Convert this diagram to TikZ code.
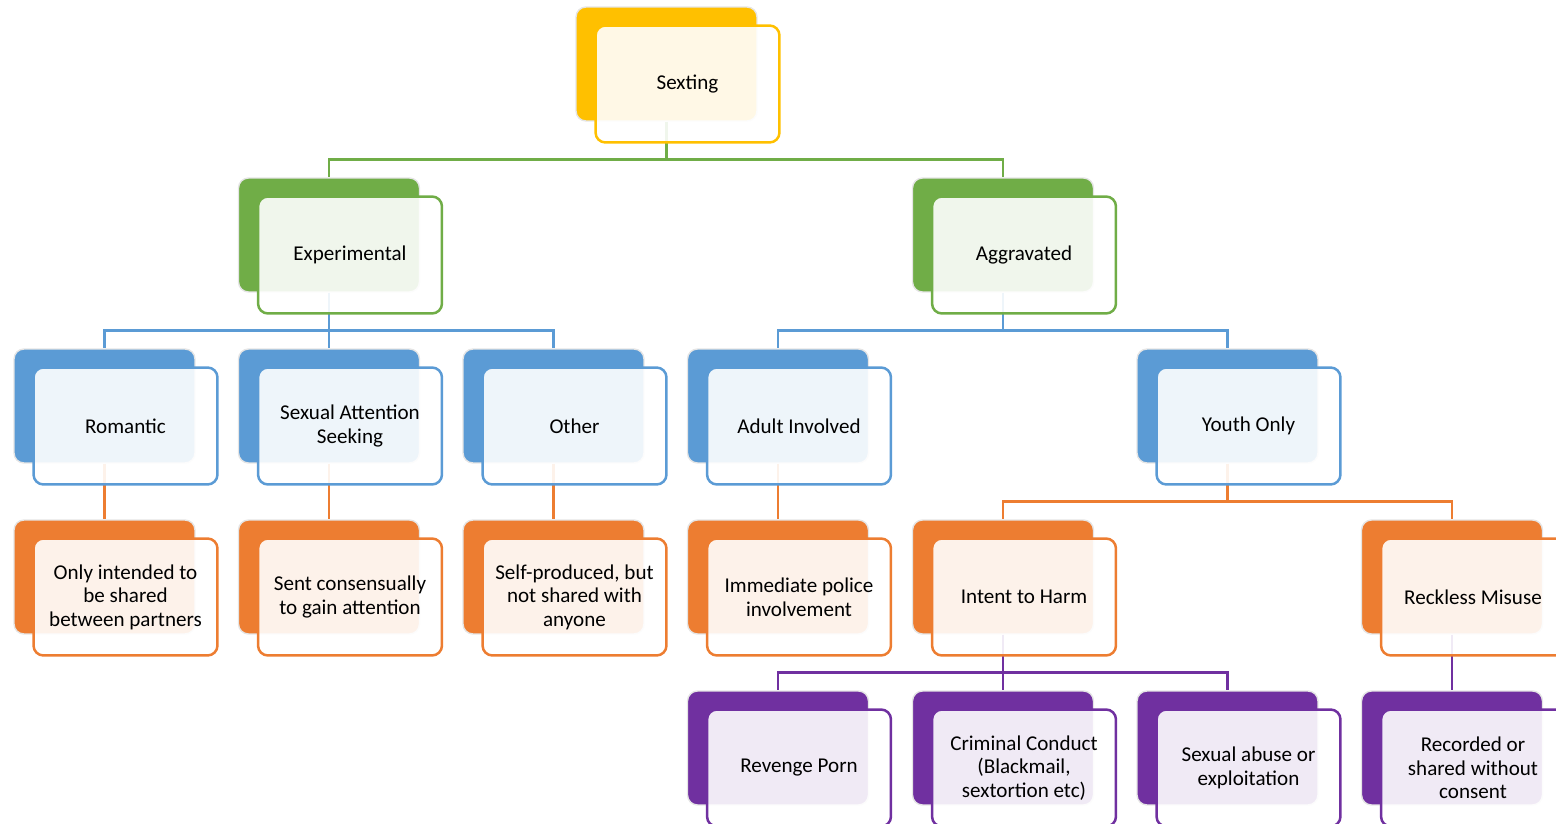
\documentclass[tikz,border=0pt]{standalone}
\usepackage{fontspec}
\setmainfont{Carlito}
\usetikzlibrary{backgrounds}
\definecolor{sxyellow}{HTML}{FFC000}
\definecolor{sxgreen}{HTML}{70AD47}
\definecolor{sxblue}{HTML}{5B9BD5}
\definecolor{sxorange}{HTML}{ED7D31}
\definecolor{sxpurple}{HTML}{7030A0}

\begin{document}
\begin{tikzpicture}
[
x=0.02cm,y=-0.02cm,
font=\fontsize{12}{13.4}\selectfont,
card/.style={rounded corners=0.2cm,inner sep=0pt},
back/.style={card,minimum width=3.62cm,minimum height=2.28cm,fill=#1,draw=black!10,line width=0.8pt},
front/.style={card,minimum width=3.68cm,minimum height=2.34cm,draw=#1,line width=0.05cm,fill=white,fill opacity=0.9,text opacity=1,align=center},
link/.style={draw=#1,line width=0.05cm},
]
\useasboundingbox (0,0) rectangle (1556,824);
\clip (0,0) rectangle (1556,824);

%Place the nodes
\node[back=sxyellow] (sextingbk) at (666.5,64) {};
\node[front=sxyellow] (sexting) at (687.5,84) {Sexting};

\node[back=sxgreen] (experbk) at (329,235) {};
\node[front=sxgreen] (exper) at (350,255) {Experimental};
\node[back=sxgreen] (aggrbk) at (1003,235) {};
\node[front=sxgreen] (aggr) at (1024,255) {Aggravated};

\node[back=sxblue] (romanbk) at (104.5,406) {};
\node[front=sxblue] (roman) at (125.5,426) {Romantic};
\node[back=sxblue] (seekbk) at (329,406) {};
\node[front=sxblue] (seek) at (350,426) {Sexual Attention\\Seeking};
\node[back=sxblue] (otherbk) at (553.5,406) {};
\node[front=sxblue] (other) at (574.5,426) {Other};
\node[back=sxblue] (adultbk) at (778,406) {};
\node[front=sxblue] (adult) at (799,426) {Adult Involved};
\node[back=sxblue] (youthbk) at (1227.5,406) {};
\node[front=sxblue] (youth) at (1248.5,426) {Youth Only};

\node[back=sxorange] (onlybk) at (104.5,577) {};
\node[front=sxorange] (only) at (125.5,597) {Only intended to\\be shared\\between partners};
\node[back=sxorange] (sentbk) at (329,577) {};
\node[front=sxorange] (sent) at (350,597) {Sent consensually\\to gain attention};
\node[back=sxorange] (selfbk) at (553.5,577) {};
\node[front=sxorange] (self) at (574.5,597) {Self-produced, but\\not shared with\\anyone};
\node[back=sxorange] (policebk) at (778,577) {};
\node[front=sxorange] (police) at (799,597) {Immediate police\\involvement};
\node[back=sxorange] (harmbk) at (1003,577) {};
\node[front=sxorange] (harm) at (1024,597) {Intent to Harm};
\node[back=sxorange] (recklessbk) at (1452,577) {};
\node[front=sxorange] (reckless) at (1473,597) {Reckless Misuse};

\node[back=sxpurple] (revengebk) at (778,748) {};
\node[front=sxpurple] (revenge) at (799,768) {Revenge Porn};
\node[back=sxpurple] (crimebk) at (1003,748) {};
\node[front=sxpurple] (crime) at (1024,768) {Criminal Conduct\\(Blackmail,\\sextortion etc)};
\node[back=sxpurple] (abusebk) at (1227.5,748) {};
\node[front=sxpurple] (abuse) at (1248.5,768) {Sexual abuse or\\exploitation};
\node[back=sxpurple] (recordbk) at (1452,748) {};
\node[front=sxpurple] (record) at (1473,768) {Recorded or\\shared without\\consent};

%Draw the connections
\begin{scope}[on background layer]
\draw[link=sxgreen] (sextingbk.south) -- ++(0,38) -| (experbk.north);
\draw[link=sxgreen] (sextingbk.south) -- ++(0,38) -| (aggrbk.north);
\draw[link=sxblue] (experbk.south) -- ++(0,38) -| (romanbk.north);
\draw[link=sxblue] (experbk.south) -- (seekbk.north);
\draw[link=sxblue] (experbk.south) -- ++(0,38) -| (otherbk.north);
\draw[link=sxblue] (aggrbk.south) -- ++(0,38) -| (adultbk.north);
\draw[link=sxblue] (aggrbk.south) -- ++(0,38) -| (youthbk.north);
\draw[link=sxorange] (romanbk.south) -- (onlybk.north);
\draw[link=sxorange] (seekbk.south) -- (sentbk.north);
\draw[link=sxorange] (otherbk.south) -- (selfbk.north);
\draw[link=sxorange] (adultbk.south) -- (policebk.north);
\draw[link=sxorange] (youthbk.south) -- ++(0,38) -| (harmbk.north);
\draw[link=sxorange] (youthbk.south) -- ++(0,38) -| (recklessbk.north);
\draw[link=sxpurple] (harmbk.south) -- ++(0,38) -| (revengebk.north);
\draw[link=sxpurple] (harmbk.south) -- (crimebk.north);
\draw[link=sxpurple] (harmbk.south) -- ++(0,38) -| (abusebk.north);
\draw[link=sxpurple] (recklessbk.south) -- (recordbk.north);
\end{scope}
\end{tikzpicture}
\end{document}
